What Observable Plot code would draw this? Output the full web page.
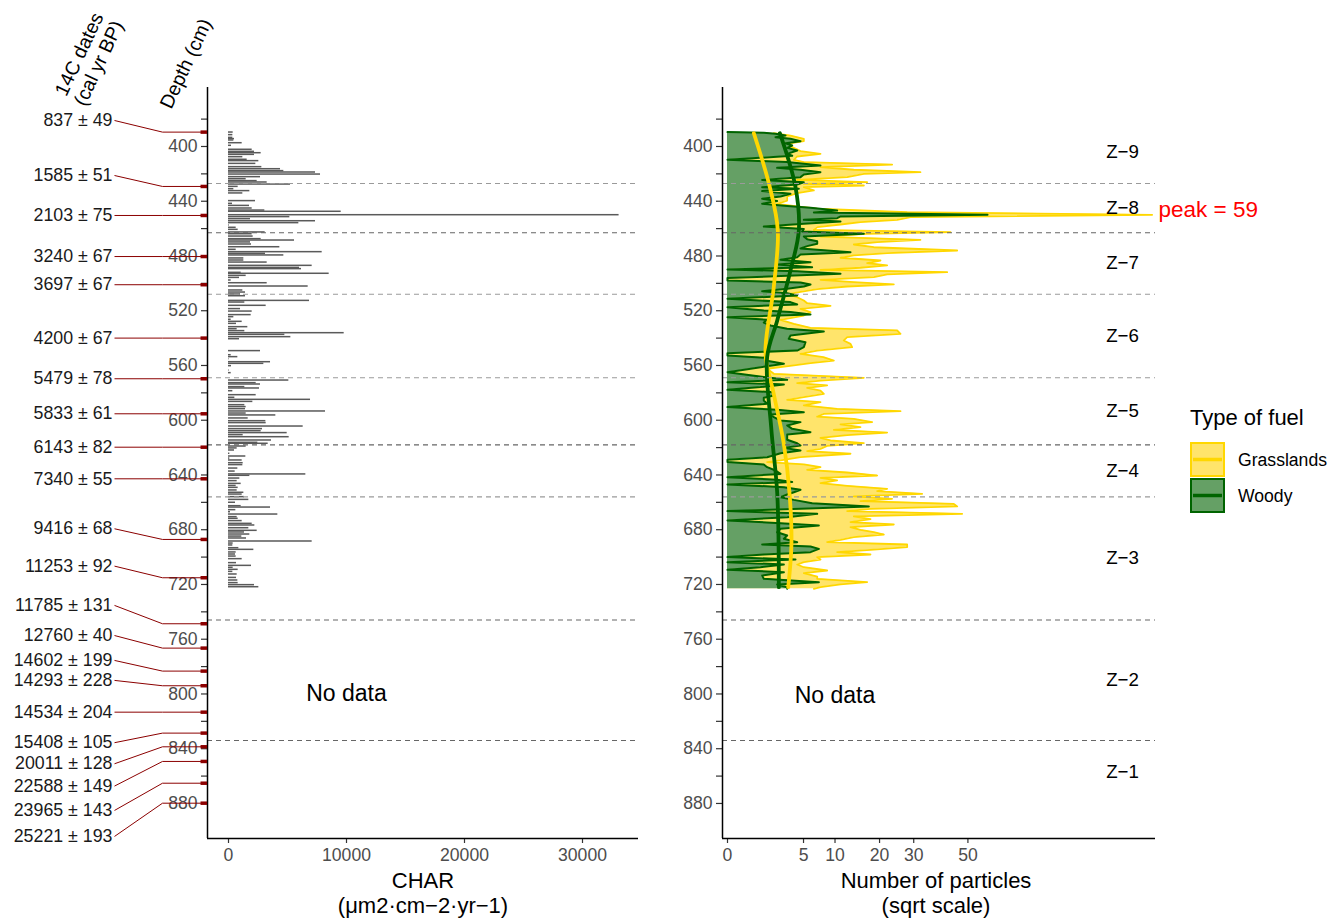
<!DOCTYPE html>
<html><head><meta charset="utf-8">
<script src="https://cdn.jsdelivr.net/npm/d3@7"></script>
<script src="https://cdn.jsdelivr.net/npm/@observablehq/plot@0.6"></script>
<style>
body{margin:0;background:#fff;}
#wrap{position:relative;width:1333px;height:919px;overflow:hidden;background:#fff;font-family:"Liberation Sans",Arial,sans-serif;}
#wrap > svg{position:absolute;top:0;}
</style></head><body><div id="wrap"></div>
<script>
// ---------- DATA ----------
const dateAges   = [837,1585,2103,3240,3697,4200,5479,5833,6143,7340,9416,11253,11785,12760,14602,14293,14534,15408,20011,22588,23965,25221];
const dateErrors = [49,51,75,67,67,67,78,61,82,55,68,92,131,40,199,228,204,105,128,149,143,193];
const dateDepths = [389.5,429.2,450.4,480.4,501,540,569.7,595.3,619.7,642.8,687.1,715.1,748.7,766.5,783.3,794,813.3,828.6,838.6,849.3,865.2,879.8];
const dateLabelDepths = [381,421.2,450.4,480.4,501,540,569.7,595.3,619.7,642.8,679.3,706.6,735.3,757.3,775.5,790.1,813.3,835.6,851,867.3,885.1,904.1];

const zoneEdges = [381,427,463,508,569,618,656,746,834,880];
const zoneNames = ["Z\u22129","Z\u22128","Z\u22127","Z\u22126","Z\u22125","Z\u22124","Z\u22123","Z\u22122","Z\u22121"];
const darkBounds = [463,618,746,834];

const charDepths = [389.8,391.7,393.7,394.6,395.6,397.6,399.5,402.4,403.9,404.9,406.1,407.8,409.7,410.7,412.7,415.1,416.6,418.0,419.0,420.5,422.4,423.9,425.3,426.3,427.8,429.5,431.2,432.6,434.3,439.9,441.9,443.4,445.3,446.8,447.7,450.2,451.6,453.1,454.6,456.0,457.7,459.4,460.9,462.8,464.1,465.8,467.7,468.7,470.1,471.6,473.6,475.5,477.2,478.4,479.6,481.8,483.3,484.8,487.2,488.7,489.6,492.3,493.0,494.5,496.0,497.9,499.9,502.3,505.2,506.7,508.1,509.4,512.8,514.0,516.4,518.8,520.6,523.2,524.7,526.6,528.1,529.6,532.0,533.5,534.9,536.4,537.6,539.3,540.8,549.5,552.5,553.9,555.4,
557.6,558.8,560.5,563.7,565.6,571.0,572.9,573.9,575.8,576.8,578.8,581.7,583.6,585.1,586.6,589.0,590.4,591.9,593.6,595.1,596.5,598.7,600.7,602.1,604.6,606.5,608.0,609.4,610.9,612.4,614.8,616.5,617.2,619.2,620.6,622.1,624.5,626.5,628.0,629.4,631.4,632.8,635.3,637.5,639.6,640.6,642.6,644.5,646.5,648.0,649.4,651.3,653.0,654.3,656.2,658.2,660.3,662.8,663.8,665.7,667.2,668.9,670.8,672.0,673.7,675.7,676.9,678.9,680.8,682.0,683.5,685.0,686.4,688.6,690.1,691.5,693.5,694.7,696.6,698.1,699.6,701.5,704.4,706.4,707.8,709.3,710.8,712.7,715.2,717.1,719.0,720.5,722.0];
const charValues = [396,367,367,508,452,1158,254,2006,2203,2768,2203,1215,1582,2570,2316,2825,4407,4690,7373,7797,2712,1497,2430,3277,5255,819,452,1808,1215,2288,339,1780,2006,3079,9549,33100,5198,1864,7373,5961,60,650,819,3108,2006,2090,2768,5594,1864,1949,4351,650,7938,3136,4690,1300,1300,3277,7090,6017,6187,1073,8531,1497,932,226,3277,6752,1215,1441,1017,1441,6865,1384,3192,1017,2006,1921,452,226,1158,678,1638,734,1384,9803,4775,5283,932,2712,226,791,40,
3560,2995,254,50,226,5113,2345,2712,1384,2627,367,2345,537,6950,2062,1384,1497,1441,8221,1497,4012,1667,3164,3192,6328,2881,2768,4972,1243,5141,3644,2486,3362,1497,734,508,113,1469,113,1158,1243,1215,791,565,6554,1808,960,734,1073,650,819,734,1300,1158,1356,1723,593,1073,3560,621,170,4181,734,819,1158,2006,2232,1723,2430,1356,1808,1130,1525,7090,395,367,876,2147,650,593,650,1158,678,1949,395,819,367,734,678,791,819,2203,2570];

// [depth, number of particles]
const woody = [[389.5,0],[389.9,1.14],[390.7,1.99],[392.0,2.91],[393.2,1.99],[394.4,3.43],[396.1,4.61],[397.6,2.91],[399.3,3.62],[401.0,3.08],[402.9,4.2],[405.4,3.08],[406.8,3.62],[409.7,0],[411.4,3.08],[413.9,7.48],[415.6,2.13],[417.0,4.61],[418.8,7.48],[420.5,5.04],[422.4,4.61],[424.4,1.04],[426.1,5.04],[427.8,4.2],[429.7,1.04],[430.9,4.4],[432.6,1.04],[434.6,3.43],[436.5,2.43],[438.2,1.04],[439.9,2.13],[441.9,1.04],[443.4,3.08],[444.8,5.96],[446.8,10.4],[448.2,6.45],[449.9,58.5],[451.1,11.05],[452.4,10.4],[453.6,5.04],[454.8,11.05],[456.5,5.04],[458.5,1.14],[460.2,5.04],[462.1,4.82],[463.8,16.08],[465.8,5.04],[467.7,5.49],[469.2,6.96],[471.1,6.96],[472.8,5.49],[474.5,4.61],[477.2,13.09],[478.9,4.61],[480.9,4.2],[482.8,2.43],[484.5,5.96],[486.2,2.13],[488.2,6.2],[489.9,0],[491.1,4.2],[493.0,11.05],[494.5,3.08],[496.0,0],[497.9,0],[499.4,4.61],[500.8,5.96],[502.3,5.04],[504.0,3.08],[505.7,1.04],[507.2,3.08],[508.9,4.2],[511.3,0],[513.7,3.43],[515.4,4.2],[517.4,0],[519.8,1.14],[521.0,3.43],[522.7,5.96],[524.7,0],[526.6,1.36],[528.6,1.14],[530.8,1.6],[533.2,3.08],[535.2,8.03],[538.1,3.43],[540.5,3.25],[543.0,5.26],[546.6,5.04],[549.1,4.2],[551.0,0],[552.7,0],[554.4,1.36],
[556.4,1.25],[558.8,2.75],[564.9,0],[568.5,1.14],[570.5,3.08],[572.2,0],[573.9,2.75],[575.8,0.94],[577.8,0],[579.5,1.86],[581.9,1.86],[583.6,1.14],[585.6,1.14],[588.0,1.36],[590.4,0],[592.4,2.13],[594.1,5.04],[595.8,1.6],[597.8,1.86],[600.2,2.43],[601.4,4.61],[603.8,3.08],[606.3,3.62],[608.7,5.96],[610.4,3.08],[612.4,3.08],[614.3,3.08],[616.8,4.2],[618.5,4.61],[620.2,2.75],[622.1,4.61],[624.1,2.43],[627.0,1.36],[628.9,0],[630.6,0],[632.3,1.14],[634.3,1.36],[636.7,2.0],[639.2,2.43],[641.6,0],[643.5,2.13],[645.2,3.62],[646.9,0],[648.9,2.75],[650.8,4.61],[652.6,3.81],[654.3,3.08],[656.2,2.43],[658.2,3.81],[660.6,6.2],[663.0,17.28],[664.7,4.61],[666.4,0],[668.4,6.96],[670.8,3.08],[673.3,0],[675.2,2.43],[676.9,7.22],[679.3,2.43],[681.8,2.13],[684.2,3.08],[686.6,2.75],[689.1,4.2],[690.8,1.04],[692.2,5.96],[694.0,7.22],[696.4,5.96],[698.1,1.14],[700.0,0],[701.8,4.0],[703.7,0],[705.4,2.75],[707.4,0.94],[709.3,0],[711.0,2.75],[713.4,1.04],[715.9,1.14],[718.3,7.22],[720.0,2.13],[722.0,3.08],[723.2,3.08]];

const grasslands = [[390.3,1.86],[392.0,3.43],[394.4,5.04],[396.1,5.04],[398.1,3.08],[400.5,3.62],[403.4,4.61],[405.4,7.48],[407.3,4.2],[409.7,3.81],[411.4,5.04],[413.2,23.45],[415.1,7.48],[417.0,13.8],[418.8,32.2],[420.0,16.08],[422.4,12.39],[424.4,4.2],[426.1,16.87],[427.3,5.04],[428.5,16.08],[429.7,5.04],[432.1,6.45],[434.1,4.2],[436.5,3.08],[439.5,3.08],[441.9,2.13],[443.8,4.2],[445.5,6.96],[448.0,27.92],[449.9,156],[451.6,28.97],[453.6,24.9],[455.3,15.3],[457.0,11.05],[458.9,6.96],[460.9,6.45],[462.6,43.02],[463.8,16.87],[465.8,7.48],[468.2,32.2],[469.9,19.38],[471.6,13.8],[473.6,18.52],[476.0,45.63],[477.9,22.05],[479.6,13.8],[481.3,11.05],[483.3,20.25],[485.2,16.87],[486.9,22.05],[488.6,15.3],[490.1,7.48],[491.8,41.74],[493.5,22.05],[495.5,18.52],[497.4,7.48],[499.1,13.8],[500.8,23.93],[502.3,12.39],[504.2,6.96],[506.2,4.61],[508.1,3.08],[510.1,4.2],[512.5,5.04],[514.5,5.49],[516.4,9.18],[518.6,4.61],[521.0,5.96],[523.5,5.04],[526.6,2.43],[529.6,3.81],[532.5,5.96],[534.4,24.9],[536.9,25.89],[539.3,12.39],[541.7,11.7],[544.2,13.09],[546.6,13.44],[549.1,6.96],[551.5,4.61],[553.9,7.96],
[556.4,9.78],[558.3,5.96],[560.0,3.81],[562.4,1.36],[566.1,1.86],[569.0,16.08],[571.0,7.48],[572.9,4.2],[574.6,8.59],[576.3,5.49],[578.3,7.48],[580.7,8.03],[583.1,5.04],[585.1,3.08],[586.8,7.48],[589.2,5.04],[591.7,10.4],[593.4,25.89],[595.3,8.03],[597.3,6.96],[599.0,13.8],[601.4,18.1],[603.1,11.05],[605.1,15.3],[607.0,9.78],[609.0,22.05],[610.9,12.39],[612.9,7.48],[614.8,9.18],[616.8,16.08],[618.7,8.59],[620.9,7.48],[622.6,5.49],[624.5,13.09],[627.0,4.61],[629.4,2.43],[630.6,1.36],[632.3,5.04],[634.3,7.48],[636.2,5.49],[638.2,12.39],[640.4,19.38],[642.1,7.48],[644.0,10.4],[646.0,7.48],[647.9,12.39],[650.1,22.05],[651.8,19.38],[653.8,32.78],[655.7,13.8],[657.4,23.45],[659.1,15.3],[661.1,44.31],[663.0,45.63],[664.7,17.69],[666.4,12.39],[668.4,47.64],[670.3,13.8],[672.3,17.69],[674.5,13.09],[676.2,23.93],[678.1,13.09],[680.1,15.3],[681.8,18.52],[683.5,21.14],[685.4,13.8],[687.4,11.05],[689.1,8.59],[690.8,27.92],[692.7,27.92],[694.7,17.69],[696.4,10.4],[698.1,17.69],[700.0,6.96],[701.8,7.48],[703.7,5.04],[705.4,4.2],[707.4,5.04],[709.8,8.59],[711.7,5.04],[714.2,6.96],[715.9,6.96],[718.3,16.87],[720.0,11.05],[722.0,7.48],[723.2,6.45]];

const grassTrend = [[390.3,0.6],[429.7,1.55],[461.4,2.19],[502.8,1.85],[551.2,1.25],[580.7,1.85],[617,2.74],[653.5,3.33],[690,3.54],[722,3.19]];
const woodyTrend = [[390.3,2.37],[429.7,4.0],[461.4,4.4],[490.6,3.43],[527.1,2.14],[553.9,1.36],[605.1,1.65],[653.5,2.14],[722,2.28]];

const depthTicks = d3.range(380, 881, 20);
const charTicks = [0, 10000, 20000, 30000];
const particleTicks = [0, 5, 10, 20, 30, 50];
const fuelTypes = ["Grasslands", "Woody"];

// ---------- STYLE ----------
const FONT = "'Liberation Sans', Arial, sans-serif";
const TICK_FS = 17.6, TITLE_FS = 22;
const Y_DOMAIN = [356.9, 905.6];
const H = 919, MT = 87, MB = 81;
const GOLD = "#ffd700", GOLD_FILL = "#ffe46b", DKGREEN = "#006400", GREEN_FILL = "#65a065";
const svgStyle = {fontFamily: FONT, fontSize: TICK_FS + "px", background: "transparent", color: "#000"};

const charRows = charDepths.map((d, i) => ({depth: d, value: charValues[i]}));
const dateRows = dateAges.map((a, i) => ({label: `${a} \u00b1 ${dateErrors[i]}`, depth: dateDepths[i], labelDepth: dateLabelDepths[i]}));
const bounds = zoneEdges.slice(1, -1);
const zoneMid = zoneNames.map((n, i) => ({name: n, depth: (zoneEdges[i] + zoneEdges[i + 1]) / 2}));
const BAR_HALF = 0.55;

function yAxis() {
  return Plot.axisY({ticks: depthTicks, tickSize: 6, tickPadding: 4, strokeWidth: 1.2, stroke: "#333", fill: "#4d4d4d",
    fontSize: TICK_FS, label: null, tickFormat: d => d % 40 === 0 ? String(d) : ""});
}
function zoneRules() {
  return Plot.ruleY(bounds, {stroke: d => darkBounds.includes(d) ? "#666" : "#9a9a9a", strokeDasharray: "5,4", strokeWidth: 1.1});
}
function rotTitle(txt, dx, dy) {
  return Plot.text([txt], {text: d => d, frameAnchor: "top-left", dx, dy, rotate: -65, fontSize: 19.5, lineHeight: 1.1,
    textAnchor: "middle", lineAnchor: "middle", fill: "#000"});
}
function bottomTitle(txt, dx) {
  return Plot.text([txt], {text: d => d, frameAnchor: "bottom", dx, dy: 54, fontSize: TITLE_FS, lineHeight: 1.13,
    lineAnchor: "middle", textAnchor: "middle", fill: "#000"});
}

// ---------- LEFT PANEL (CHAR) ----------
const xLeft = [-1780, 34746];
const left = Plot.plot({
  width: 660, height: H, marginLeft: 207, marginRight: 22, marginTop: MT, marginBottom: MB,
  style: svgStyle,
  x: {domain: xLeft},
  y: {domain: Y_DOMAIN, reverse: true},
  marks: [
    Plot.rectX(charRows, {x1: 0, x2: "value", y1: d => d.depth - BAR_HALF, y2: d => d.depth + BAR_HALF, fill: "#5a5a5a"}),
    zoneRules(),
    Plot.text(["No data"], {x: 10000, y: 800, text: d => d, fontSize: 23, fill: "#000"}),
    yAxis(),
    Plot.axisX({ticks: charTicks, tickSize: 5, tickPadding: 5, strokeWidth: 1.2, stroke: "#333", fill: "#4d4d4d", fontSize: TICK_FS, label: null, tickFormat: d => String(d)}),
    Plot.ruleX([xLeft[0]], {strokeWidth: 1.5, stroke: "#000"}),
    Plot.ruleY([Y_DOMAIN[1]], {strokeWidth: 1.5, stroke: "#000"}),
    bottomTitle("CHAR\n(\u03bcm2\u00b7cm\u22122\u00b7yr\u22121)", 0),
    rotTitle("Depth (cm)", -22, -24)
  ]
});
left.style.left = "0px";

// ---------- DATES COLUMN ----------
const KINK = 0.516, TICK0 = 0.925;
const dates = Plot.plot({
  width: 207, height: H, marginLeft: 114, marginRight: 0, marginTop: MT, marginBottom: MB,
  style: svgStyle,
  x: {domain: [0, 1], axis: null},
  y: {domain: Y_DOMAIN, reverse: true, axis: null},
  marks: [
    Plot.link(dateRows, {x1: 0, x2: KINK, y1: "labelDepth", y2: "depth", stroke: "#8b0000", strokeWidth: 1}),
    Plot.link(dateRows, {x1: KINK, x2: 1, y1: "depth", y2: "depth", stroke: "#8b0000", strokeWidth: 1}),
    Plot.link(dateRows, {x1: TICK0, x2: 1, y1: "depth", y2: "depth", stroke: "#8b0000", strokeWidth: 3.5}),
    Plot.text(dateRows, {x: 0, y: "labelDepth", text: "label", textAnchor: "end", dx: -2, fontSize: 17.8, fill: "#1a1a1a"}),
    rotTitle("14C dates\n(cal yr BP)", -26, -29)
  ]
});
dates.style.left = "0px";

// ---------- RIGHT PANEL (particles) ----------
const xRight = [-0.0216, 158.46];
const right = Plot.plot({
  width: 673, height: H, marginLeft: 62, marginRight: 178, marginTop: MT, marginBottom: MB,
  style: svgStyle,
  x: {type: "sqrt", domain: xRight},
  y: {domain: Y_DOMAIN, reverse: true},
  marks: [
    Plot.areaX(grasslands, {y: d => d[0], x1: 0, x2: d => d[1], fill: GOLD_FILL}),
    Plot.lineX(grasslands, {y: d => d[0], x: d => d[1], stroke: GOLD, strokeWidth: 1.8}),
    Plot.areaX(woody, {y: d => d[0], x1: 0, x2: d => d[1], fill: GREEN_FILL}),
    Plot.lineX(woody, {y: d => d[0], x: d => d[1], stroke: DKGREEN, strokeWidth: 2}),
    Plot.lineX(grassTrend, {y: d => d[0], x: d => d[1], stroke: GOLD, strokeWidth: 3.8, curve: "catmull-rom"}),
    Plot.lineX(woodyTrend, {y: d => d[0], x: d => d[1], stroke: DKGREEN, strokeWidth: 3.8, curve: "catmull-rom"}),
    zoneRules(),
    Plot.text(zoneMid, {y: "depth", text: "name", frameAnchor: "right", dx: -33, textAnchor: "middle", fontSize: 18.7, fill: "#000"}),
    Plot.text(["peak = 59"], {text: d => d, y: 446, frameAnchor: "right", dx: 3, textAnchor: "start", fontSize: 22.5, fill: "#ff0000"}),
    Plot.text(["No data"], {x: 10, y: 801.5, text: d => d, fontSize: 23, fill: "#000"}),
    yAxis(),
    Plot.axisX({ticks: particleTicks, tickSize: 5, tickPadding: 5, strokeWidth: 1.2, stroke: "#333", fill: "#4d4d4d", fontSize: TICK_FS, label: null, tickFormat: d => String(d)}),
    Plot.ruleX([xRight[0]], {strokeWidth: 1.5, stroke: "#000"}),
    Plot.ruleY([Y_DOMAIN[1]], {strokeWidth: 1.5, stroke: "#000"}),
    bottomTitle("Number of particles\n(sqrt scale)", -3)
  ]
});
right.style.left = "660px";

// ---------- LEGEND ----------
const leg = d3.create("svg").attr("width", 153).attr("height", 140)
  .style("position", "absolute").style("left", "1180px").style("top", "390px")
  .style("font-family", FONT);
leg.append("text").attr("x", 10).attr("y", 35).attr("font-size", TITLE_FS).text("Type of fuel");
const keyStyle = [{fill: GOLD_FILL, stroke: GOLD}, {fill: GREEN_FILL, stroke: DKGREEN}];
fuelTypes.forEach((name, i) => {
  const y0 = 53 + i * 36;
  leg.append("rect").attr("x", 11).attr("y", y0).attr("width", 33).attr("height", 33)
    .attr("fill", keyStyle[i].fill).attr("stroke", keyStyle[i].stroke).attr("stroke-width", 2);
  leg.append("line").attr("x1", 13).attr("x2", 42).attr("y1", y0 + 16.5).attr("y2", y0 + 16.5)
    .attr("stroke", keyStyle[i].stroke).attr("stroke-width", 3.5);
  leg.append("text").attr("x", 58).attr("y", y0 + 16.5).attr("dy", "0.35em").attr("font-size", TICK_FS).text(name);
});

const wrap = document.getElementById("wrap");
wrap.append(left, right, dates, leg.node());
</script></body></html>
